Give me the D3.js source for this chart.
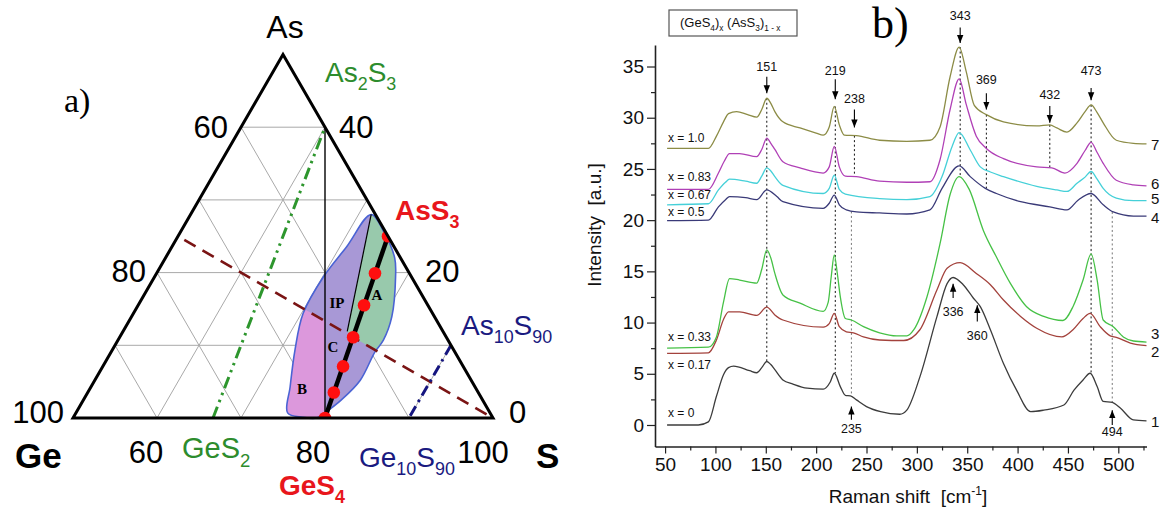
<!DOCTYPE html>
<html lang="en">
<head>
<meta charset="utf-8">
<title>GeS4 - AsS3 glasses</title>
<script src="https://cdn.jsdelivr.net/npm/d3@7"></script>
<style>
  body { margin: 0; background: #fff; }
  svg { display: block; font-family: "Liberation Sans", Arial, sans-serif; }
  text { white-space: pre; }
</style>
</head>
<body>
<svg id="chart" width="1166" height="511"></svg>
<script>
// ---------- panel a: ternary data, (As %, Ge %) pairs ----------
const gridSteps = [10, 20, 30, 40]
const corners = [[0, 50], [0, 0], [50, 0]]          // Ge50S50, S, As50S50
const dotAs = [25, 19.9, 15.5, 11.1, 7.1, 3.5, 0]  // (GeS4)x(AsS3)1-x, x = 0 .. 1
const dotGe = [0, 4.1, 7.6, 11.1, 14.3, 17.2, 20]
const outlineAs = [28.0, 25.6, 22.0, 19.4, 13.9, 10.7, 9.1, 5.2, 2.5, 0.7, 0, 0.1, 0.7, 4.3, 9.35, 14.4, 19.4, 23.6]
const outlineGe = [0.5, 0.2, 0.7, 1.9, 5.1, 7.7, 9.5, 13.2, 16.8, 19.7, 21.0, 22.6, 24.1, 22.0, 18.9, 15.4, 10.5, 5.6]
const pinkAs = [24.5, 13.33, 0, 0]
const pinkGe = [24.5, 13.33, 20, 50]
const greenAs = [28.0, 11.9, 11.1, 0, 30]
const greenGe = [0.5, 11.4, 11.1, 0, 0]
const ges2Line = [[0, 33.33], [40, 0]]     // GeS2 - As2S3
const ipLine = [[40, 0], [0, 20]]          // As2S3 - GeS4
const thinLine = [[28.0, 0.5], [11.9, 11.4]]
const mixLine = [[25, 0], [0, 20]]         // AsS3 - GeS4
const asGeLine = [[24.5, 24.5], [0, 0]]
const ge10Line = [[10, 0], [0, 10]]        // As10S90 - Ge10S90

// ---------- panel b: Raman spectra ----------
const spectrumIds = ["1", "2", "3", "4", "5", "6", "7"]
const mixLabels = ["x = 0", "x = 0.17", "x = 0.33", "x = 0.5", "x = 0.67", "x = 0.83", "x = 1.0"]
const mixLabelAt = [1.14, 5.86, 8.62, 20.83, 22.46, 24.25, 28.06]
const idLabelAt = [0.32, 7.16, 8.89, 20.28, 22.14, 23.6, 27.34]
const spectrumColors = ["#3c3c3c", "#a3423c", "#46c146", "#3a3a78", "#45d0d8", "#b040b6", "#8c8c46"]

const spec1 = [[52,0],[83,0],[93,0.3],[101,2.8],[108,4.9],[113,5.6],[118,5.75],[134,5.3],[141,5.1],[146,5.6],[151,6.2],[155,5.9],[159,5.4],[167,4.4],[177,4.0],[191,3.6],[207,3.5],[214,4.2],[218,5.05],[224,3.75],[229,2.9],[234,2.85],[240,2.45],[250,1.8],[264,1.3],[283,1.05],[290,1.45],[303,4.7],[320,10.6],[330,13.8],[336,14.4],[346,13.7],[356,12.4],[363,11.55],[373,9.3],[386,6.0],[399,3.4],[413,1.3],[426,1.45],[446,1.95],[456,3.4],[465,4.4],[472,5.05],[479,3.75],[485,2.3],[494,2.2],[502,1.65],[515,0.5],[528,0.4]]
const spec2 = [[52,7.0],[93,7.05],[101,8.3],[108,10.3],[113,11.05],[124,11.05],[141,10.7],[151,11.5],[159,10.75],[167,10.25],[207,9.55],[213,9.9],[218,10.9],[223,9.6],[230,9.1],[237,9.0],[247,8.6],[263,8.3],[287,8.25],[303,9.3],[320,13.2],[330,15.3],[343,15.85],[359,14.8],[373,13.7],[386,12.2],[403,10.6],[419,9.45],[444,8.6],[455,9.3],[465,10.4],[472,10.9],[482,9.6],[492,8.7],[498,8.55],[512,8.0],[528,7.75]]
const spec3 = [[52,7.5],[93,7.6],[101,8.6],[108,12.0],[114,14.3],[124,14.15],[141,13.85],[146,15.2],[151,17.1],[155,16.3],[159,14.8],[167,12.7],[184,11.9],[207,11.1],[212,12.0],[215,14.5],[218,16.6],[221,14.8],[224,12.5],[229,10.4],[235,10.25],[247,9.6],[263,9.0],[280,8.7],[290,8.7],[297,9.3],[310,12.5],[323,17.7],[333,22.5],[342,24.25],[352,23.0],[366,19.0],[379,16.4],[393,13.8],[409,11.55],[426,10.6],[445,10.2],[455,11.55],[465,14.15],[473,16.7],[479,14.15],[485,10.25],[495,9.6],[505,8.6],[515,8.2],[528,8.1]]
const spec4 = [[52,19.95],[93,20.0],[103,21.3],[110,22.0],[114,22.3],[130,22.2],[141,22.0],[151,22.95],[161,22.3],[167,21.8],[207,21.15],[213,21.65],[218,22.45],[223,21.5],[230,21.0],[240,20.8],[263,20.7],[290,20.6],[313,21.0],[325,23.1],[342,25.3],[353,24.25],[368,23.1],[379,22.6],[403,21.8],[432,21.3],[449,21.0],[460,21.95],[473,22.6],[485,21.5],[495,20.8],[515,20.4],[528,20.4]]
const spec5 = [[52,21.5],[93,21.6],[103,22.95],[110,23.7],[114,24.0],[130,23.8],[141,23.6],[146,24.3],[151,25.1],[155,24.8],[159,24.25],[167,23.4],[207,22.6],[213,23.1],[218,24.4],[223,23.0],[229,22.55],[263,22.1],[290,22.0],[313,22.3],[325,24.25],[335,27.2],[342,28.55],[353,26.85],[363,25.2],[373,24.7],[386,24.25],[419,23.3],[439,22.95],[449,22.8],[459,23.6],[467,24.2],[473,24.75],[479,24.0],[485,23.1],[498,22.15],[515,21.9],[528,21.9]]
const spec6 = [[52,23.0],[93,23.0],[103,24.6],[109,25.8],[114,26.5],[124,26.5],[141,26.2],[146,26.9],[151,28.0],[155,27.5],[159,26.9],[167,25.7],[184,25.1],[207,24.6],[213,25.2],[218,27.2],[223,25.2],[229,24.3],[240,24.25],[263,23.8],[290,23.7],[313,23.75],[323,25.9],[333,30.8],[342,33.8],[349,31.3],[359,28.2],[369,27.0],[386,26.0],[419,25.2],[434,25.1],[447,24.6],[459,25.55],[467,26.8],[473,27.6],[479,26.6],[485,25.55],[498,23.9],[515,23.45],[528,23.35]]
const spec7 = [[52,27.0],[93,27.0],[101,28.2],[108,29.6],[113,30.4],[121,30.6],[132,30.3],[141,30.05],[146,30.8],[151,31.9],[155,31.4],[159,30.6],[167,29.6],[184,29.0],[200,28.5],[207,28.3],[213,29.1],[218,31.1],[223,29.3],[228,28.3],[240,28.25],[263,27.8],[290,27.7],[313,27.8],[323,29.1],[333,34.0],[342,36.9],[349,34.5],[357,31.2],[369,30.3],[386,29.6],[419,29.2],[432,29.3],[439,29.0],[449,28.6],[459,29.5],[467,30.6],[473,31.25],[479,30.5],[485,29.5],[498,27.8],[515,27.5],[528,27.45]]
const spectra = [spec1, spec2, spec3, spec4, spec5, spec6, spec7]

// peak marks: position, dotted guide (from, to), arrow (from, to), label level
const peakPos = [151, 219, 238, 343, 369, 432, 473, 235, 494, 336, 360]
const guideTop = [31.9, 31.1, 28.25, 36.9, 30.3, 29.3, 31.25, 20.85, 20.8, null, null]
const guideBottom = [6.2, 5.05, 24.25, 24.25, 23.1, 25.1, 5.05, 2.85, 2.2, null, null]
const arrowFrom = [34.0, 33.75, 30.8, 38.8, 32.4, 31.15, 32.9, 0.5, 0.0, 12.4, 10.1]
const arrowTo = [32.4, 31.8, 29.05, 37.3, 30.8, 29.5, 31.7, 1.8, 1.45, 13.8, 11.7]
const peakLabelAt = [35.0, 34.6, 31.9, 40.0, 33.7, 32.3, 34.6, -0.3, -0.65, 11.1, 8.7]

const yTicks = [0, 5, 10, 15, 20, 25, 30, 35]
const yMinor = [2.5, 7.5, 12.5, 17.5, 22.5, 27.5, 32.5]
const xTicks = [50, 100, 150, 200, 250, 300, 350, 400, 450, 500]
const xMinor = [75, 125, 175, 225, 275, 325, 375, 425, 475, 525]

const svg = d3.select("#chart")
svg.append("rect").attr("width", 1166).attr("height", 511).attr("fill", "#fff")

// ================= panel a =================
const tx = d3.scaleLinear().domain([50, 100]).range([73, 493])
const ty = d3.scaleLinear().domain([0, 50]).range([418, 54.5])
const tern = ([a, g]) => [tx(100 - g - a / 2), ty(a)]
const zip = (as, gs) => as.map((a, i) => [a, gs[i]])
const tline = d3.line().x(d => tern(d)[0]).y(d => tern(d)[1])
const outlinePath = d3.line().curve(d3.curveCatmullRomClosed.alpha(0.5))
    .x(d => tern(d)[0]).y(d => tern(d)[1])(zip(outlineAs, outlineGe))

const defs = svg.append("defs")
defs.append("clipPath").attr("id", "region")
    .append("path").attr("d", outlinePath)
defs.append("clipPath").attr("id", "tri")
    .append("path").attr("d", tline(corners) + "Z")

const ta = svg.append("g")

const gridSegs = []
gridSteps.forEach(k => {
    gridSegs.push([[k, 50 - k], [k, 0]])
    gridSegs.push([[0, k], [50 - k, k]])
    gridSegs.push([[0, 50 - k], [50 - k, 0]])
})
ta.append("g").selectAll("path").data(gridSegs).join("path")
    .attr("d", tline)
    .attr("stroke", "#a9a9a9").attr("stroke-width", 1).attr("fill", "none")

const regions = ta.append("g").attr("clip-path", "url(#region)")
regions.append("path").attr("d", outlinePath).attr("fill", "#a898d6")
regions.append("path").attr("d", tline(zip(pinkAs, pinkGe)) + "Z").attr("fill", "#dc98dc")
regions.append("path").attr("d", tline(zip(greenAs, greenGe)) + "Z").attr("fill", "#98c9ac")
ta.append("path").attr("d", outlinePath)
    .attr("fill", "none").attr("stroke", "#4a63d4").attr("stroke-width", 1.6)
    .attr("stroke-linejoin", "round")

const seg = (pts, color, width, dash) => ta.append("path").attr("d", tline(pts))
    .attr("fill", "none").attr("stroke", color).attr("stroke-width", width)
    .attr("stroke-dasharray", dash || null)

seg(ipLine, "#000", 1.4)
seg(thinLine, "#000", 1.2)
seg(ges2Line, "#2d962d", 3, "12,5,2.5,5,2.5,5")
seg(mixLine, "#000", 4.5)
seg(asGeLine, "#7a1414", 2.6, "13,8")
seg(ge10Line, "#15157f", 3, "11,5,2.5,5")

ta.append("g").attr("clip-path", "url(#tri)")
    .selectAll("circle").data(zip(dotAs, dotGe)).join("circle")
    .attr("cx", d => tern(d)[0]).attr("cy", d => tern(d)[1])
    .attr("r", 6.3).attr("fill", "#ff0f0f")

ta.append("path").attr("d", tline(corners) + "Z")
    .attr("fill", "none").attr("stroke", "#000").attr("stroke-width", 3).attr("stroke-linejoin", "miter")

const txt = (g, s, x, y, size, opts = {}) => g.append("text").text(s)
    .attr("x", x).attr("y", y).attr("font-size", size)
    .attr("fill", opts.color || "#000").attr("font-weight", opts.weight || "normal")
    .attr("text-anchor", opts.anchor || "start")
    .attr("font-family", opts.family || null)

function chem(g, parts, x, y, size, color, weight) {
    const t = g.append("text").attr("x", x).attr("y", y).attr("font-size", size)
        .attr("fill", color).attr("font-weight", weight || "normal")
    let down = false
    parts.forEach(([s, sub]) => {
        const ts = t.append("tspan").text(s)
        if (sub) {
            ts.attr("font-size", size * 0.64)
            if (!down) { ts.attr("dy", size * 0.3); down = true }
        } else if (down) { ts.attr("dy", -size * 0.3); down = false }
    })
    return t
}

const serif = "'Liberation Serif', 'Times New Roman', serif"
txt(ta, "As", tern([50, 0])[0] + 2, tern([50, 0])[1] - 17, 32, { anchor: "middle" })
txt(ta, "a)", 64, 112, 34, { family: serif })
txt(ta, "60", tern([40, 10])[0] - 13, tern([40, 10])[1] + 11, 31, { anchor: "end" })
txt(ta, "80", tern([20, 30])[0] - 11, tern([20, 30])[1] + 9, 31, { anchor: "end" })
txt(ta, "100", tern([0, 50])[0] - 9, tern([0, 50])[1] + 5, 31, { anchor: "end" })
txt(ta, "40", tern([40, 0])[0] + 14, tern([40, 0])[1] + 11, 31)
txt(ta, "20", tern([20, 0])[0] + 16, tern([20, 0])[1] + 9, 31)
txt(ta, "0", tern([0, 0])[0] + 16, tern([0, 0])[1] + 5, 31)
txt(ta, "60", tern([0, 40])[0] - 11, 463, 31, { anchor: "middle" })
txt(ta, "80", tern([0, 20])[0] - 12, 463, 31, { anchor: "middle" })
txt(ta, "100", tern([0, 0])[0] - 10, 463, 31, { anchor: "middle" })
txt(ta, "Ge", 15, 468, 35, { weight: "bold" })
txt(ta, "S", 536, 468, 35, { weight: "bold" })

chem(ta, [["As", 0], ["2", 1], ["S", 0], ["3", 1]], 325, 82, 28, "#2d8c2d")
chem(ta, [["AsS", 0], ["3", 1]], 395, 220, 28, "#e8161c", "bold")
chem(ta, [["As", 0], ["10", 1], ["S", 0], ["90", 1]], 461, 335, 28, "#1a1a80")
chem(ta, [["GeS", 0], ["2", 1]], 182, 458, 29, "#2d8c2d")
chem(ta, [["GeS", 0], ["4", 1]], 279, 495, 28, "#e8161c", "bold")
chem(ta, [["Ge", 0], ["10", 1], ["S", 0], ["90", 1]], 359, 467, 28, "#1a1a80")

const regionNames = ["IP", "A", "C", "B"]
const regionNameX = [337, 377, 333, 302]
const regionNameY = [308, 300, 352, 394]
regionNames.forEach((s, i) => txt(ta, s, regionNameX[i], regionNameY[i], 15,
    { anchor: "middle", weight: "bold", family: serif }))

// ================= panel b =================
const x = d3.scaleLinear().domain([40, 528]).range([655, 1146.5])
const y = d3.scaleLinear().domain([-2.1, 37.1]).range([446.5, 45])
const tb = svg.append("g")

defs.append("marker").attr("id", "head")
    .attr("viewBox", "0 0 8 8").attr("refX", 8).attr("refY", 4)
    .attr("markerWidth", 8).attr("markerHeight", 8).attr("markerUnits", "userSpaceOnUse")
    .attr("orient", "auto")
    .append("path").attr("d", "M0,0.8L8,4L0,7.2Z").attr("fill", "#000")

// dotted guides
tb.append("g").selectAll("line").data(peakPos.filter((p, i) => guideTop[i] !== null))
    .join("line")
    .attr("x1", d => x(d)).attr("x2", d => x(d))
    .attr("y1", d => y(guideTop[peakPos.indexOf(d)]))
    .attr("y2", d => y(guideBottom[peakPos.indexOf(d)]))
    .attr("stroke", d => (d === 235 || d === 494) ? "#777" : "#111")
    .attr("stroke-width", 1).attr("stroke-dasharray", "2,2.5")

// spectra
const line = d3.line().curve(d3.curveMonotoneX).x(d => x(d[0])).y(d => y(d[1]))
tb.append("g").selectAll("path").data(spectra).join("path")
    .attr("d", line)
    .attr("fill", "none")
    .attr("stroke", (d, i) => spectrumColors[i])
    .attr("stroke-width", 1.3)

// arrows and peak labels
tb.append("g").selectAll("line").data(peakPos).join("line")
    .attr("x1", d => x(d)).attr("x2", d => x(d))
    .attr("y1", (d, i) => y(arrowFrom[i])).attr("y2", (d, i) => y(arrowTo[i]))
    .attr("stroke", "#000").attr("stroke-width", 1.1)
    .attr("marker-end", "url(#head)")
tb.append("g").selectAll("text").data(peakPos).join("text")
    .attr("x", d => x(d)).attr("y", (d, i) => y(peakLabelAt[i]) + 4.5)
    .attr("text-anchor", "middle").attr("font-size", 12.5).attr("fill", "#111")
    .text(d => d)

// curve labels
tb.append("g").selectAll("text").data(mixLabels).join("text")
    .attr("x", 668).attr("y", (d, i) => y(mixLabelAt[i]) + 4)
    .attr("font-size", 12).attr("fill", "#111").text(d => d)
tb.append("g").selectAll("text").data(spectrumIds).join("text")
    .attr("x", 1151).attr("y", (d, i) => y(idLabelAt[i]) + 5.5)
    .attr("font-size", 15).attr("fill", "#111").text(d => d)

// axes
tb.append("g").attr("transform", `translate(${x(40)},0)`)
    .call(d3.axisLeft(y).tickValues(yTicks).tickSize(8).tickSizeOuter(0).tickPadding(3))
tb.append("g").attr("transform", `translate(${x(40)},0)`)
    .call(d3.axisLeft(y).tickValues(yMinor).tickSize(4).tickFormat(""))
    .call(g => g.select(".domain").remove())
tb.append("g").attr("transform", `translate(0,${y(-2.1)})`)
    .call(d3.axisBottom(x).tickValues(xTicks).tickSize(7).tickSizeOuter(0).tickPadding(4))
tb.append("g").attr("transform", `translate(0,${y(-2.1)})`)
    .call(d3.axisBottom(x).tickValues(xMinor).tickSize(4).tickFormat(""))
    .call(g => g.select(".domain").remove())
tb.selectAll(".domain").attr("stroke", "#222").attr("stroke-width", 1.6)
tb.selectAll(".tick line").attr("stroke", "#222").attr("stroke-width", 1.2)
tb.selectAll(".tick text").attr("font-size", 19).attr("fill", "#111")
    .attr("font-family", "'Liberation Sans', Arial, sans-serif")

const xTitle = txt(tb, "", 908, 503, 19, { anchor: "middle", color: "#111" })
xTitle.append("tspan").text("Raman shift  [cm")
xTitle.append("tspan").text("-1").attr("font-size", 12).attr("dy", -8)
xTitle.append("tspan").text("]").attr("dy", 8)
tb.append("text").attr("transform", "translate(601,225) rotate(-90)")
    .attr("text-anchor", "middle").attr("font-size", 19).attr("fill", "#111")
    .text("Intensity  [a.u.]")

txt(tb, "b)", 872, 38, 44, { family: serif })

tb.append("rect").attr("x", 669).attr("y", 10).attr("width", 128).attr("height", 26)
    .attr("fill", "#fff").attr("stroke", "#555").attr("stroke-width", 1.2)
chem(tb, [["(GeS", 0], ["4", 1], [")", 0], ["x", 1], [" (AsS", 0], ["3", 1], [")", 0], ["1 - x", 1]],
    680, 27, 13, "#111")
</script>
</body>
</html>
